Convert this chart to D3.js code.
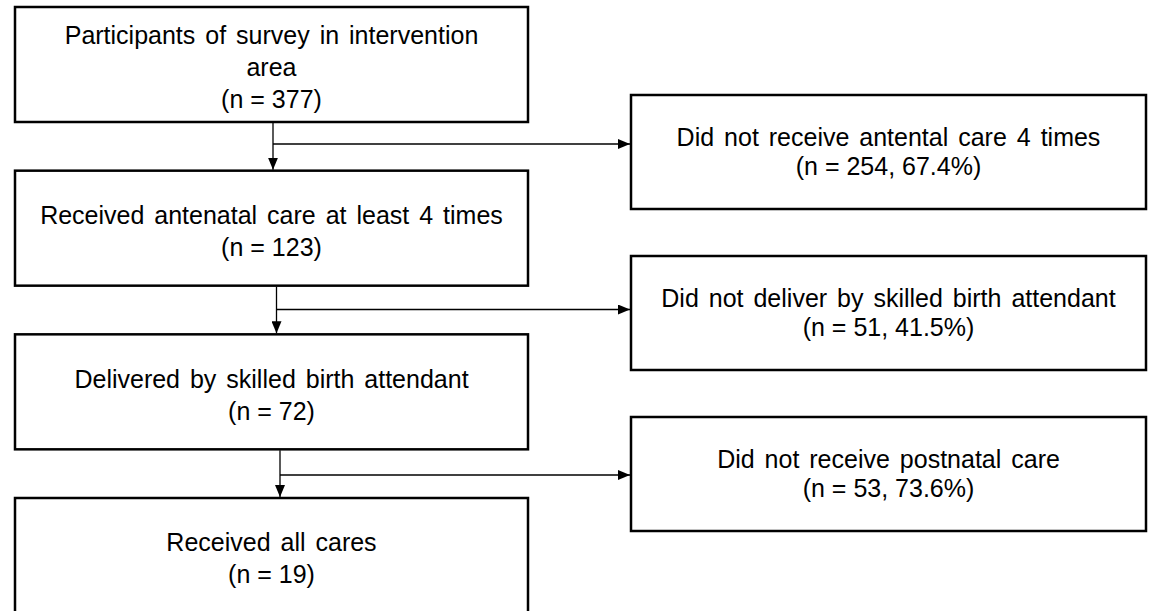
<!DOCTYPE html>
<html lang="en">
<head>
    <meta charset="UTF-8">
    <title>Flow</title>
    <style>
        body { margin: 0; background: #fff; }
        #SVG { display: block; }
    </style>
</head>
<body>
    <svg id="SVG"></svg>
    <script src="https://d3js.org/d3.v7.min.js"></script>
    <script>
        // data
        var stageLines = [
            ["Participants of survey in intervention", "area"],
            ["Received antenatal care at least 4 times"],
            ["Delivered by skilled birth attendant"],
            ["Received all cares"]
        ];
        var stageN = [377, 123, 72, 19];
        var exclusionLabels = [
            "Did not receive antental care 4 times",
            "Did not deliver by skilled birth attendant",
            "Did not receive postnatal care"
        ];
        var exclusionN = [254, 51, 53];
        var exclusionPct = ["67.4%", "41.5%", "73.6%"];

        var width = 1150, height = 611;
        var boxH = 115, exBoxH = 114;
        var fontSize = 25;

        var svg = d3.select("#SVG").attr("width", width).attr("height", height);

        var defs = svg.append("defs");
        defs.append("marker")
            .attr("id", "arrow")
            .attr("viewBox", "0 0 12 10")
            .attr("refX", 12).attr("refY", 5)
            .attr("markerWidth", 12).attr("markerHeight", 10)
            .attr("markerUnits", "userSpaceOnUse")
            .attr("orient", "auto")
            .append("path")
            .attr("d", "M0,0 L12,5 L0,10 Z")
            .attr("fill", "#000");

        // scales for layout
        var yStage = d3.scaleLinear().domain([0, stageLines.length - 1]).range([7, 498]);
        var yEx = d3.scaleLinear().domain([0, exclusionLabels.length - 1]).range([95, 417]);
        var yArrow = d3.scaleLinear().domain([0, exclusionLabels.length - 1]).range([144, 475]);
        var xConn = d3.scaleLinear().domain([0, exclusionLabels.length - 1]).range([273, 280]);
        var xLeft = d3.scaleLinear().domain([0, 1]).range([15, 528]);
        var xRight = d3.scaleLinear().domain([0, 1]).range([631, 1146]);

        function addLines(sel, lines, cx, cy, lh) {
            var top = cy - (lines.length - 1) * lh / 2;
            sel.selectAll("text").data(lines).enter().append("text")
                .attr("x", cx)
                .attr("y", (t, j) => top + j * lh)
                .attr("dy", "0.35em")
                .attr("text-anchor", "middle")
                .attr("font-family", "'Liberation Sans', Arial, sans-serif")
                .attr("font-size", fontSize)
                // label lines have the wider word gaps of the original
                .attr("word-spacing", t => t.startsWith("(n") ? 0 : 3)
                .attr("fill", "#000")
                .text(t => t);
        }

        var g = svg.append("g");

        // main boxes
        var stages = stageLines.map((lines, i) => ({lines: lines.concat(["(n = " + stageN[i] + ")"]), i: i}));

        var sg = g.selectAll(".stage").data(stages).enter().append("g").attr("class", "stage");
        sg.append("rect")
            .attr("x", xLeft(0))
            .attr("y", d => yStage(d.i))
            .attr("width", xLeft(1) - xLeft(0))
            .attr("height", boxH)
            .attr("fill", "#fff")
            .attr("stroke", "#000")
            .attr("stroke-width", 2.5);
        sg.each(function (d) {
            addLines(d3.select(this), d.lines, (xLeft(0) + xLeft(1)) / 2, yStage(d.i) + boxH / 2 + 3, 32);
        });

        // exclusion boxes
        var exs = exclusionLabels.map((l, i) => ({lines: [l, "(n = " + exclusionN[i] + ", " + exclusionPct[i] + ")"], i: i}));
        var eg = g.selectAll(".ex").data(exs).enter().append("g").attr("class", "ex");
        eg.append("rect")
            .attr("x", xRight(0))
            .attr("y", d => yEx(d.i))
            .attr("width", xRight(1) - xRight(0))
            .attr("height", exBoxH)
            .attr("fill", "#fff")
            .attr("stroke", "#000")
            .attr("stroke-width", 2.5);
        eg.each(function (d) {
            addLines(d3.select(this), d.lines, (xRight(0) + xRight(1)) / 2, yEx(d.i) + exBoxH / 2, 29);
        });

        // connectors
        var steps = d3.range(exclusionLabels.length);
        g.selectAll(".down").data(steps).enter().append("line")
            .attr("x1", i => xConn(i)).attr("x2", i => xConn(i))
            .attr("y1", i => yStage(i) + boxH + 1)
            .attr("y2", i => yStage(i + 1) - 1)
            .attr("stroke", "#000").attr("stroke-width", 1.3)
            .attr("marker-end", "url(#arrow)");
        g.selectAll(".side").data(steps).enter().append("line")
            .attr("x1", i => xConn(i)).attr("x2", i => xRight(0) - 1)
            .attr("y1", i => yArrow(i)).attr("y2", i => yArrow(i))
            .attr("stroke", "#000").attr("stroke-width", 1.3)
            .attr("marker-end", "url(#arrow)");
    </script>
</body>
</html>
